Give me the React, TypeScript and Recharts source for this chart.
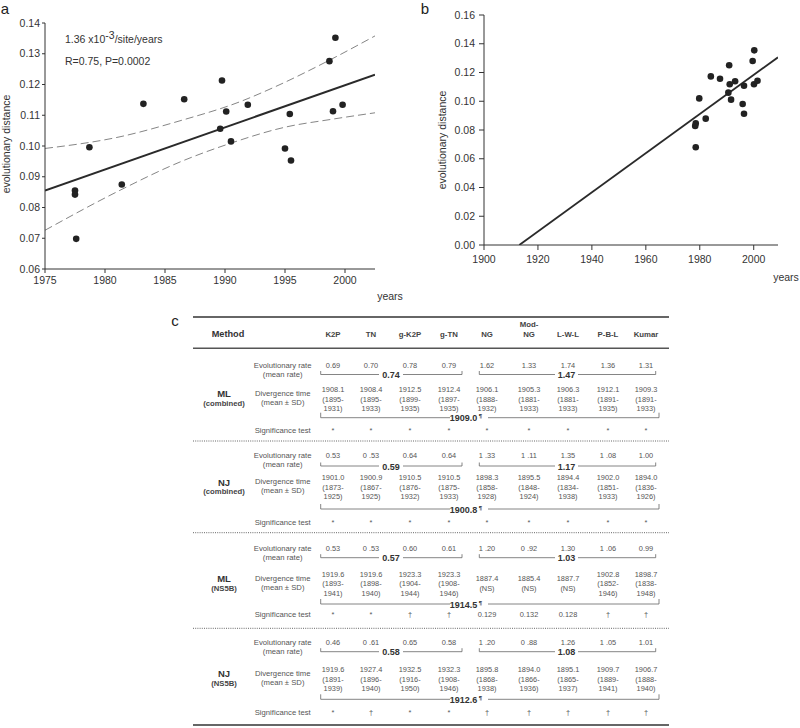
import React from 'react';
import { ComposedChart, Scatter, Line, XAxis, YAxis } from 'recharts';

// ---- panel a: sampling year vs distance, with fit and confidence band ----
const aYears = [1977.5, 1977.5, 1977.6, 1978.7, 1981.4, 1983.2, 1986.6, 1989.75, 1989.6, 1990.1, 1990.5, 1991.9, 1995.0, 1995.4, 1995.5, 1998.7, 1999.2, 1999.0, 1999.8];
const aDistances = [0.0855, 0.0842, 0.0698, 0.0996, 0.0875, 0.1137, 0.1152, 0.1213, 0.1056, 0.1112, 0.1015, 0.1134, 0.0992, 0.1104, 0.0953, 0.1276, 0.1352, 0.1113, 0.1134];
const aFitYears = [1975, 2002.5];
const aFitValues = [0.0855, 0.1232];
const aUpperYears = [1975, 1981.25, 1986.25, 1991.25, 1994.2, 1998.75, 2002.5];
const aUpperValues = [0.0992, 0.103, 0.1082, 0.1144, 0.1193, 0.128, 0.1358];
const aLowerYears = [1975, 1981.25, 1986.25, 1990.4, 1995.1, 1998.75, 2002.5];
const aLowerValues = [0.0726, 0.0856, 0.0948, 0.1008, 0.1062, 0.1086, 0.1108];
const aYearTicks = [1975, 1980, 1985, 1990, 1995, 2000];
const aDistTicks = [0.06, 0.07, 0.08, 0.09, 0.1, 0.11, 0.12, 0.13, 0.14];

// ---- panel b: same data, fit extrapolated back to zero ----
const bYears = [1978.5, 1978.3, 1978.5, 1979.8, 1982.2, 1984.1, 1987.5, 1990.9, 1990.6, 1991.1, 1991.6, 1993.1, 1995.9, 1996.4, 1996.4, 1999.6, 2000.2, 2000.1, 2001.4];
const bDistances = [0.0846, 0.0828, 0.068, 0.102, 0.0879, 0.1173, 0.1157, 0.125, 0.106, 0.1118, 0.1011, 0.1139, 0.0981, 0.1108, 0.0913, 0.128, 0.1354, 0.1118, 0.1143];
const bFitYears = [1913.1, 2009];
const bFitValues = [0, 0.1306];
const bYearTicks = [1900, 1920, 1940, 1960, 1980, 2000];
const bDistTicks = [0, 0.02, 0.04, 0.06, 0.08, 0.1, 0.12, 0.14, 0.16];

// ---- panel c: table ----
const methods = ['K2P', 'TN', 'g-K2P', 'g-TN', 'NG', 'Mod-\nNG', 'L-W-L', 'P-B-L', 'Kumar'];

const mlCombRates = ['0.69', '0.70', '0.78', '0.79', '1.62', '1.33', '1.74', '1.36', '1.31'];
const mlCombMeans = ['0.74', '1.47'];
const mlCombDiv = ['1908.1\n(1895-\n1931)', '1908.4\n(1895-\n1933)', '1912.5\n(1899-\n1935)', '1912.4\n(1897-\n1935)', '1906.1\n(1888-\n1932)', '1905.3\n(1881-\n1933)', '1906.3\n(1881-\n1933)', '1912.1\n(1891-\n1935)', '1909.3\n(1891-\n1933)'];
const mlCombDivMean = '1909.0';
const mlCombSig = ['*', '*', '*', '*', '*', '*', '*', '*', '*'];

const njCombRates = ['0.53', '0 .53', '0.64', '0.64', '1 .33', '1 .11', '1.35', '1 .08', '1.00'];
const njCombMeans = ['0.59', '1.17'];
const njCombDiv = ['1901.0\n(1873-\n1925)', '1900.9\n(1867-\n1925)', '1910.5\n(1876-\n1932)', '1910.5\n(1875-\n1933)', '1898.3\n(1858-\n1928)', '1895.5\n(1848-\n1924)', '1894.4\n(1834-\n1938)', '1902.0\n(1851-\n1933)', '1894.0\n(1836-\n1926)'];
const njCombDivMean = '1900.8';
const njCombSig = ['*', '*', '*', '*', '*', '*', '*', '*', '*'];

const mlNs5bRates = ['0.53', '0 .53', '0.60', '0.61', '1 .20', '0 .92', '1.30', '1 .06', '0.99'];
const mlNs5bMeans = ['0.57', '1.03'];
const mlNs5bDiv = ['1919.6\n(1893-\n1941)', '1919.6\n(1898-\n1940)', '1923.3\n(1904-\n1944)', '1923.3\n(1908-\n1946)', '1887.4\n(NS)', '1885.4\n(NS)', '1887.7\n(NS)', '1902.8\n(1852-\n1946)', '1898.7\n(1838-\n1948)'];
const mlNs5bDivMean = '1914.5';
const mlNs5bSig = ['*', '*', '†', '†', '0.129', '0.132', '0.128', '†', '†'];

const njNs5bRates = ['0.46', '0 .61', '0.65', '0.58', '1 .20', '0 .88', '1.26', '1 .05', '1.01'];
const njNs5bMeans = ['0.58', '1.08'];
const njNs5bDiv = ['1919.6\n(1891-\n1939)', '1927.4\n(1896-\n1940)', '1932.5\n(1916-\n1950)', '1932.3\n(1908-\n1946)', '1895.8\n(1868-\n1938)', '1894.0\n(1866-\n1936)', '1895.1\n(1865-\n1937)', '1909.7\n(1889-\n1941)', '1906.7\n(1888-\n1940)'];
const njNs5bDivMean = '1912.6';
const njNs5bSig = ['*', '†', '*', '*', '†', '†', '†', '†', '†'];

const toPoints = (xs: number[], ys: number[]) => xs.map((x, i) => ({ x, y: ys[i] }));

const FONT = '"Liberation Sans", Arial, Helvetica, sans-serif';
const tickStyle = { fontSize: 10.5, fill: '#333' };

const Dot = (props: any) => <circle cx={props.cx} cy={props.cy} r={3.3} fill="#222" />;

// table layout (x of columns, y anchors per section)
const colX = [333, 371, 410, 449, 487, 529, 568, 608, 646];
const TL = 193;
const TR = 669;
const sectionY = [
  { top: 348, rate: 365, br1: 374.5, div: 389.3, br2: 417.7, sig: 430, bottom: 441 },
  { top: 441, rate: 455.7, br1: 466, div: 477.5, br2: 509, sig: 522.3, bottom: 532.7 },
  { top: 532.7, rate: 548.3, br1: 557.7, div: 574, br2: 604, sig: 614.3, bottom: 628.3 },
  { top: 628.3, rate: 642, br1: 651.7, div: 669.3, br2: 699.3, sig: 712.7, bottom: 725 },
];

const sections = [
  { name: 'ML', sub: '(combined)', rates: mlCombRates, means: mlCombMeans, div: mlCombDiv, divMean: mlCombDivMean, sig: mlCombSig },
  { name: 'NJ', sub: '(combined)', rates: njCombRates, means: njCombMeans, div: njCombDiv, divMean: njCombDivMean, sig: njCombSig },
  { name: 'ML', sub: '(NS5B)', rates: mlNs5bRates, means: mlNs5bMeans, div: mlNs5bDiv, divMean: mlNs5bDivMean, sig: mlNs5bSig },
  { name: 'NJ', sub: '(NS5B)', rates: njNs5bRates, means: njNs5bMeans, div: njNs5bDiv, divMean: njNs5bDivMean, sig: njNs5bSig },
];

const valStyle = { fontSize: 7.4, fill: '#555' };
const lblStyle = { fontSize: 7.7, fill: '#555' };
const boldStyle = { fontSize: 9, fill: '#333', fontWeight: 700 };

function Bracket({ x1, x2, y, gapL, gapR, tick }: { x1: number; x2: number; y: number; gapL: number; gapR: number; tick: number }) {
  return (
    <g stroke="#666" strokeWidth={0.8} fill="none">
      <path d={`M${x1},${y - tick}V${y}H${gapL}`} />
      <path d={`M${gapR},${y}H${x2}V${y - tick}`} />
    </g>
  );
}

function Table() {
  return (
    <g fontFamily={FONT}>
      <line x1={TL} x2={TR} y1={317} y2={317} stroke="#333" strokeWidth={1.4} />
      <line x1={TL} x2={TR} y1={348.3} y2={348.3} stroke="#555" strokeWidth={1.4} />
      <line x1={TL} x2={TR} y1={725} y2={725} stroke="#333" strokeWidth={1.4} />
      <text x={228} y={334.3} textAnchor="middle" dominantBaseline="central" fontSize={9.2} fontWeight={700} fill="#333">Method</text>
      {methods.map((m, i) => {
        const lines = m.split('\n');
        return lines.map((t, j) => (
          <text key={`h${i}-${j}`} x={colX[i]} y={334.3 - (lines.length - 1 - j) * 10} textAnchor="middle" dominantBaseline="central" fontSize={7.8} fontWeight={700} fill="#444">{t}</text>
        ));
      })}
      {sections.map((s, k) => {
        const Y = sectionY[k];
        return (
          <g key={`s${k}`}>
            {k < 3 && <line x1={TL} x2={TR} y1={Y.bottom} y2={Y.bottom} stroke="#555" strokeWidth={0.9} strokeDasharray="1 1.2" />}
            <text x={224} y={Y.div + 4.5} textAnchor="middle" dominantBaseline="central" fontSize={9.5} fontWeight={700} fill="#333">{s.name}</text>
            <text x={224} y={Y.div + 14} textAnchor="middle" dominantBaseline="central" fontSize={7.7} fontWeight={700} fill="#444">{s.sub}</text>
            <text x={282.7} y={Y.rate} textAnchor="middle" dominantBaseline="central" {...lblStyle}>Evolutionary rate</text>
            <text x={282.7} y={Y.rate + 9} textAnchor="middle" dominantBaseline="central" {...lblStyle}>(mean rate)</text>
            <text x={282.7} y={Y.div + 4} textAnchor="middle" dominantBaseline="central" {...lblStyle}>Divergence time</text>
            <text x={282.7} y={Y.div + 13} textAnchor="middle" dominantBaseline="central" {...lblStyle}>(mean ± SD)</text>
            <text x={282.7} y={Y.sig} textAnchor="middle" dominantBaseline="central" {...lblStyle}>Significance test</text>
            {s.rates.map((r, i) => (
              <text key={`r${i}`} x={colX[i]} y={Y.rate} textAnchor="middle" dominantBaseline="central" {...valStyle}>{r}</text>
            ))}
            {s.div.map((d, i) => {
              const lines = d.split('\n');
              const off = lines.length === 2 ? 4.8 : 0;
              return lines.map((t, j) => (
                <text key={`d${i}-${j}`} x={colX[i]} y={Y.div + off + j * 9.7} textAnchor="middle" dominantBaseline="central" {...valStyle}>{t}</text>
              ));
            })}
            {s.sig.map((g, i) => (
              <text key={`g${i}`} x={colX[i]} y={Y.sig} textAnchor="middle" dominantBaseline="central" {...valStyle}>{g}</text>
            ))}
            <Bracket x1={320.7} x2={462} y={Y.br1} gapL={379} gapR={403} tick={3.5} />
            <text x={391} y={Y.br1 + 0.5} textAnchor="middle" dominantBaseline="central" {...boldStyle}>{s.means[0]}</text>
            <Bracket x1={479.3} x2={655.7} y={Y.br1} gapL={555} gapR={578} tick={3.5} />
            <text x={566.5} y={Y.br1 + 0.5} textAnchor="middle" dominantBaseline="central" {...boldStyle}>{s.means[1]}</text>
            <Bracket x1={320.7} x2={659} y={Y.br2} gapL={450} gapR={488} tick={5} />
            <text x={466} y={Y.br2 + 0.5} textAnchor="middle" dominantBaseline="central" {...boldStyle}>
              {s.divMean}
              <tspan fontSize={6} dx={1.5} dy={-2}>¶</tspan>
            </text>
          </g>
        );
      })}
    </g>
  );
}

export default function App() {
  return (
    <div style={{ position: 'absolute', left: 0, top: 0, width: 800, height: 728, background: '#fff', fontFamily: FONT }}>
      <div style={{ position: 'absolute', left: 0, top: 0 }}>
        <ComposedChart width={410} height={300} margin={{ top: 23, right: 35, bottom: 0, left: 0 }}>
          <XAxis type="number" dataKey="x" domain={[1975, 2002.5]} ticks={aYearTicks} allowDataOverflow height={31}
            tickSize={4} tickMargin={4} tick={tickStyle} stroke="#333" interval={0} />
          <YAxis type="number" dataKey="y" domain={[0.06, 0.14]} ticks={aDistTicks} allowDataOverflow width={45}
            tickSize={3} tickMargin={2} tick={tickStyle} stroke="#333" interval={0} tickFormatter={(v: number) => v.toFixed(2)} />
          <Line data={toPoints(aUpperYears, aUpperValues)} dataKey="y" type="monotone" dot={false} activeDot={false}
            stroke="#777" strokeWidth={0.9} strokeDasharray="8 4" isAnimationActive={false} />
          <Line data={toPoints(aLowerYears, aLowerValues)} dataKey="y" type="monotone" dot={false} activeDot={false}
            stroke="#777" strokeWidth={0.9} strokeDasharray="8 4" isAnimationActive={false} />
          <Line data={toPoints(aFitYears, aFitValues)} dataKey="y" type="linear" dot={false} activeDot={false}
            stroke="#2a2a2a" strokeWidth={2} isAnimationActive={false} />
          <Scatter data={toPoints(aYears, aDistances)} shape={Dot} isAnimationActive={false} />
        </ComposedChart>
      </div>
      <div style={{ position: 'absolute', left: 420, top: 0 }}>
        <ComposedChart width={380} height={285} margin={{ top: 15, right: 22, bottom: 0, left: 0 }}>
          <XAxis type="number" dataKey="x" domain={[1900, 2009]} ticks={bYearTicks} allowDataOverflow height={40}
            tickSize={5} tickMargin={6} tick={tickStyle} stroke="#333" interval={0} />
          <YAxis type="number" dataKey="y" domain={[0, 0.16]} ticks={bDistTicks} allowDataOverflow width={64}
            tickSize={5} tickMargin={4} tick={tickStyle} stroke="#333" interval={0} tickFormatter={(v: number) => v.toFixed(2)} />
          <Line data={toPoints(bFitYears, bFitValues)} dataKey="y" type="linear" dot={false} activeDot={false}
            stroke="#2a2a2a" strokeWidth={1.8} isAnimationActive={false} />
          <Scatter data={toPoints(bYears, bDistances)} shape={Dot} isAnimationActive={false} />
        </ComposedChart>
      </div>
      <svg width={800} height={728} style={{ position: 'absolute', left: 0, top: 0, pointerEvents: 'none' }} fontFamily={FONT}>
        <text x={5} y={8} dominantBaseline="central" textAnchor="middle" fontSize={15} fill="#222">a</text>
        <text x={425} y={8} dominantBaseline="central" textAnchor="middle" fontSize={15} fill="#222">b</text>
        <text x={175} y={320} dominantBaseline="central" textAnchor="middle" fontSize={15} fill="#222">c</text>
        <text transform="translate(6,144) rotate(-90)" textAnchor="middle" dominantBaseline="central" fontSize={10.5} fill="#333">evolutionary distance</text>
        <text transform="translate(442,140) rotate(-90)" textAnchor="middle" dominantBaseline="central" fontSize={10.5} fill="#333">evolutionary distance</text>
        <text x={390} y={296} textAnchor="middle" dominantBaseline="central" fontSize={10.5} fill="#333">years</text>
        <text x={786} y={277} textAnchor="middle" dominantBaseline="central" fontSize={10.5} fill="#333">years</text>
        <text x={65} y={39} dominantBaseline="central" fontSize={10.5} fill="#333">
          1.36 x10<tspan dy={-4}>-3</tspan><tspan dy={4}>/site/years</tspan>
        </text>
        <text x={65} y={61} dominantBaseline="central" fontSize={10.5} fill="#333">R=0.75, P=0.0002</text>
        <Table />
      </svg>
    </div>
  );
}
